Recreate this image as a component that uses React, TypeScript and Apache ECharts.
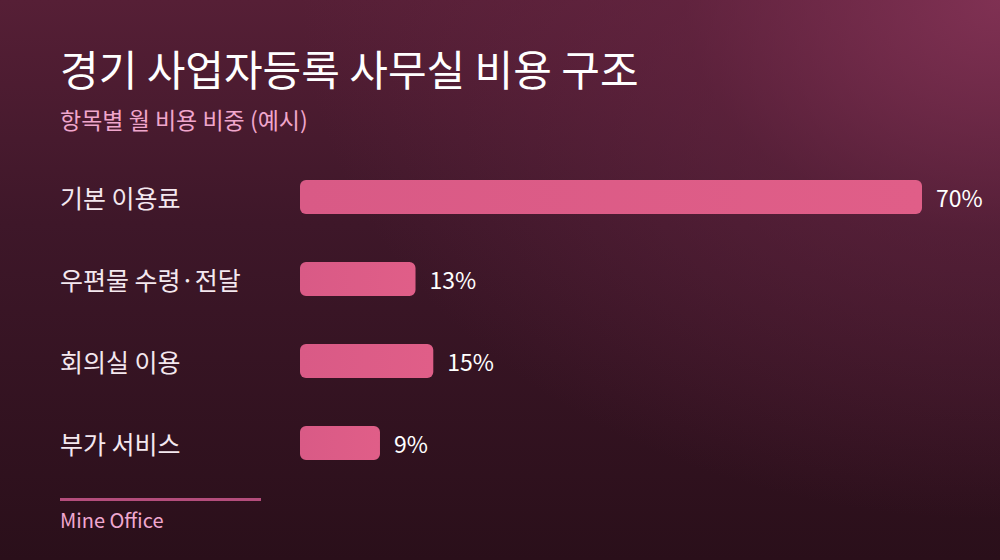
import React, { useEffect, useRef } from 'react';
import * as echarts from 'echarts';

const title = '경기 사업자등록 사무실 비용 구조';
const subtitle = '항목별 월 비용 비중 (예시)';
const footer = 'Mine Office';

const categories = ['기본 이용료', '우편물 수령·전달', '회의실 이용', '부가 서비스'];
const shares = [70, 13, 15, 9];

const FONT = '"Noto Sans CJK KR", "Noto Sans", sans-serif';

const App: React.FC = () => {
  const chartRef = useRef<HTMLDivElement>(null);

  useEffect(() => {
    if (!chartRef.current) return;
    const chart = echarts.init(chartRef.current, null, { renderer: 'svg' });

    const option = {
      animation: false,
      backgroundColor: 'transparent',
      textStyle: { fontFamily: FONT },
      grid: { left: 300, top: 156, width: 622, height: 328, containLabel: false },
      xAxis: {
        type: 'value',
        min: 0,
        max: 70,
        show: false
      },
      yAxis: {
        type: 'category',
        data: categories,
        inverse: true,
        axisLine: { show: false },
        axisTick: { show: false },
        splitLine: { show: false },
        axisLabel: {
          margin: 240,
          align: 'left',
          color: '#f4e8ef',
          fontSize: 25,
          fontFamily: FONT,
          padding: [0, 0, 8, 0]
        }
      },
      series: [
        {
          type: 'bar',
          data: shares,
          barWidth: 34,
          itemStyle: {
            color: new echarts.graphic.LinearGradient(0, 0, 1, 0, [
              { offset: 0, color: '#d95a86' },
              { offset: 1, color: '#e05e88' }
            ]),
            borderRadius: 6
          },
          label: {
            show: true,
            position: 'right',
            distance: 14,
            formatter: '{c}%',
            color: '#ffffff',
            fontSize: 23,
            fontFamily: FONT,
            padding: [0, 0, 5, 0]
          }
        }
      ],
      graphic: [
        {
          type: 'text',
          left: 60,
          top: 46,
          style: {
            text: title,
            fill: '#ffffff',
            font: `42px ${FONT}`
          }
        },
        {
          type: 'text',
          left: 60,
          top: 107,
          style: {
            text: subtitle,
            fill: '#f0a6cc',
            font: `23px ${FONT}`
          }
        },
        {
          type: 'rect',
          shape: { x: 60, y: 498, width: 201, height: 3 },
          style: { fill: '#b44d7c' }
        },
        {
          type: 'text',
          left: 60,
          top: 509,
          style: {
            text: footer,
            fill: '#f0a8d0',
            font: `20px ${FONT}`
          }
        }
      ]
    };

    chart.setOption(option);

    return () => {
      chart.dispose();
    };
  }, []);

  return (
    <div
      style={{
        position: 'absolute',
        left: 0,
        top: 0,
        width: 1000,
        height: 560,
        background:
          'radial-gradient(ellipse 700px 520px at 1000px 0px, rgba(135, 52, 88, 0.85) 0%, rgba(110, 40, 72, 0.45) 45%, rgba(60, 20, 38, 0) 100%), linear-gradient(180deg, #561f36 0%, #3e1729 40%, #2a0f1a 100%)'
      }}
    >
      <div ref={chartRef} style={{ width: 1000, height: 560 }} />
    </div>
  );
};

export default App;
